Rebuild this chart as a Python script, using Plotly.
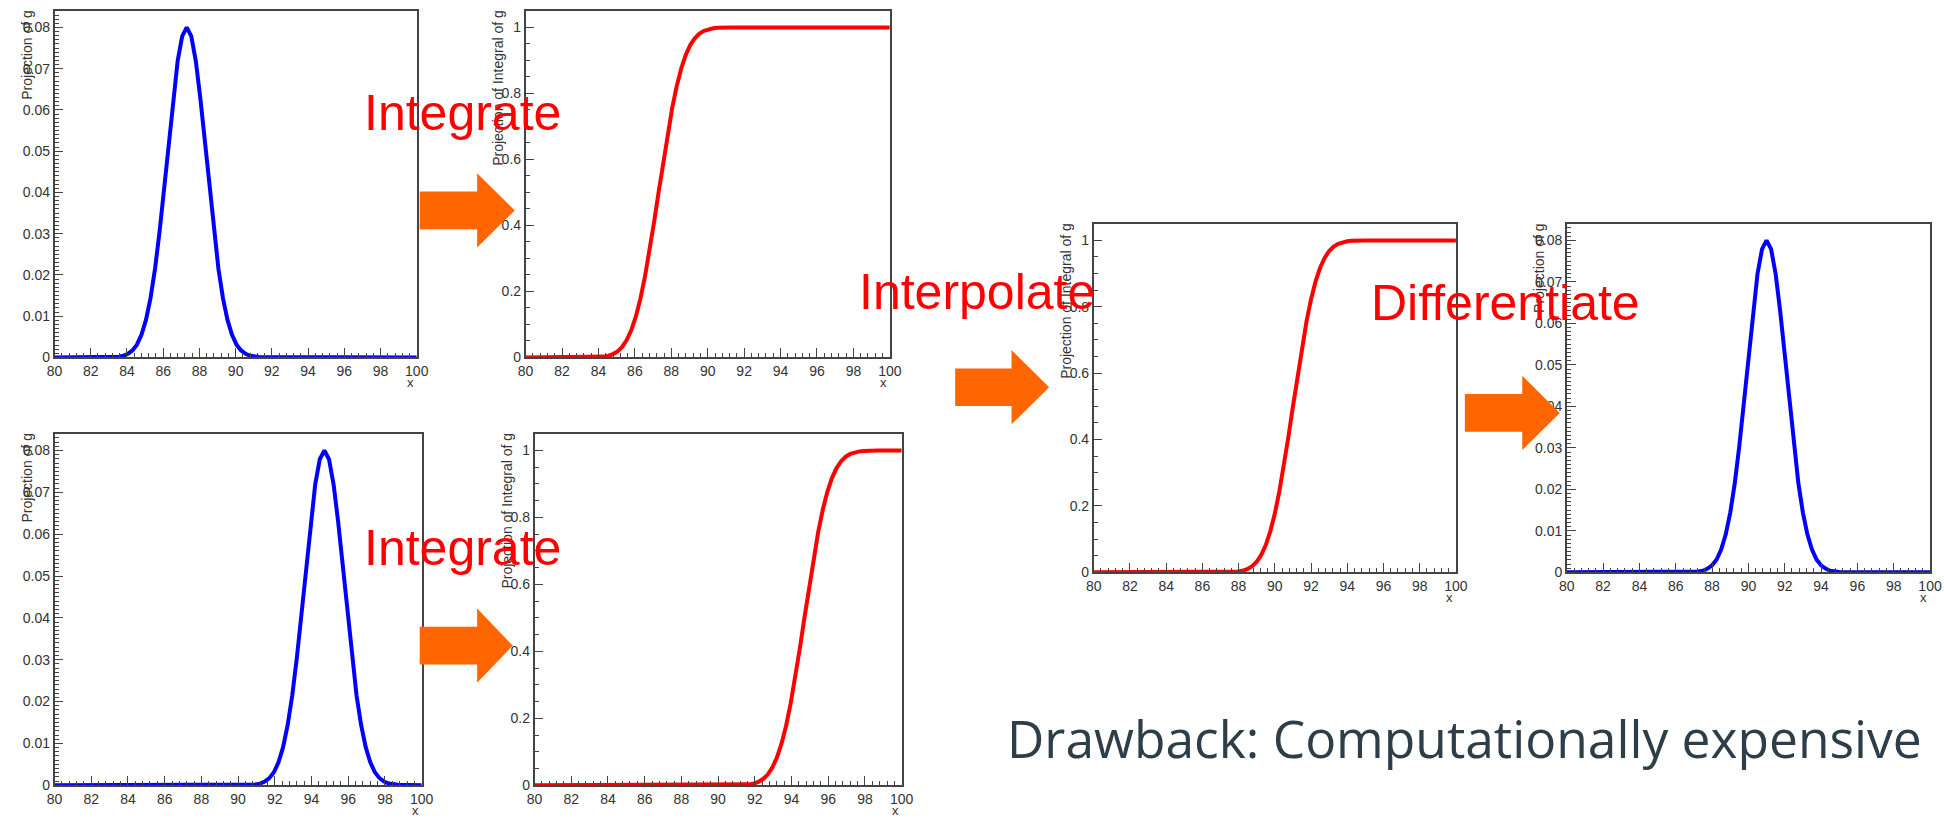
import plotly.graph_objects as go

W, H = 1944, 821

# ---------------- data ----------------
x_top = [80, 83.3, 83.55, 83.8, 84.05, 84.3, 84.55, 84.8, 85.05, 85.3, 85.55, 85.8, 86.05,
         86.3, 86.55, 86.8, 87.05, 87.3, 87.55, 87.8, 88.05, 88.3, 88.55, 88.8, 89.05, 89.3,
         89.55, 89.8, 90.05, 90.3, 90.55, 90.8, 91.05, 91.3, 100]
x_bottom = [80, 90.7, 90.95, 91.2, 91.45, 91.7, 91.95, 92.2, 92.45, 92.7, 92.95, 93.2, 93.45,
            93.7, 93.95, 94.2, 94.45, 94.7, 94.95, 95.2, 95.45, 95.7, 95.95, 96.2, 96.45, 96.7,
            96.95, 97.2, 97.45, 97.7, 97.95, 98.2, 98.45, 98.7, 100]
x_interp = [80, 87.0, 87.25, 87.5, 87.75, 88.0, 88.25, 88.5, 88.75, 89.0, 89.25, 89.5, 89.75,
            90.0, 90.25, 90.5, 90.75, 91.0, 91.25, 91.5, 91.75, 92.0, 92.25, 92.5, 92.75, 93.0,
            93.25, 93.5, 93.75, 94.0, 94.25, 94.5, 94.75, 95.0, 100]

pdf_top = [0, 0.0001, 0.0002, 0.0004, 0.0009, 0.0017, 0.0031, 0.0055, 0.0091, 0.0144, 0.0215,
           0.0305, 0.0410, 0.0521, 0.0629, 0.0719, 0.0779, 0.0800, 0.0779, 0.0719, 0.0629,
           0.0521, 0.0410, 0.0305, 0.0215, 0.0144, 0.0091, 0.0055, 0.0031, 0.0017, 0.0009,
           0.0004, 0.0002, 0.0001, 0]
pdf_bottom = [0, 0.0001, 0.0002, 0.0004, 0.0009, 0.0017, 0.0031, 0.0055, 0.0091, 0.0144, 0.0215,
              0.0305, 0.0410, 0.0521, 0.0629, 0.0719, 0.0779, 0.0800, 0.0779, 0.0719, 0.0629,
              0.0521, 0.0410, 0.0305, 0.0215, 0.0144, 0.0091, 0.0055, 0.0031, 0.0017, 0.0009,
              0.0004, 0.0002, 0.0001, 0]
pdf_interp = [0, 0.0001, 0.0002, 0.0004, 0.0009, 0.0017, 0.0031, 0.0055, 0.0091, 0.0144, 0.0215,
              0.0305, 0.0410, 0.0521, 0.0629, 0.0719, 0.0779, 0.0800, 0.0779, 0.0719, 0.0629,
              0.0521, 0.0410, 0.0305, 0.0215, 0.0144, 0.0091, 0.0055, 0.0031, 0.0017, 0.0009,
              0.0004, 0.0002, 0.0001, 0]

cdf_top = [0, 0.0001, 0.0003, 0.0006, 0.0013, 0.0027, 0.0054, 0.0103, 0.0186, 0.0320, 0.0526,
           0.0824, 0.1236, 0.1772, 0.2438, 0.3217, 0.4085, 0.5000, 0.5915, 0.6783, 0.7562,
           0.8228, 0.8764, 0.9176, 0.9474, 0.9680, 0.9814, 0.9897, 0.9946, 0.9973, 0.9987,
           0.9994, 0.9997, 0.9999, 1]
cdf_bottom = [0, 0.0001, 0.0003, 0.0006, 0.0013, 0.0027, 0.0054, 0.0103, 0.0186, 0.0320, 0.0526,
              0.0824, 0.1236, 0.1772, 0.2438, 0.3217, 0.4085, 0.5000, 0.5915, 0.6783, 0.7562,
              0.8228, 0.8764, 0.9176, 0.9474, 0.9680, 0.9814, 0.9897, 0.9946, 0.9973, 0.9987,
              0.9994, 0.9997, 0.9999, 1]
cdf_interp = [0, 0.0001, 0.0003, 0.0006, 0.0013, 0.0027, 0.0054, 0.0103, 0.0186, 0.0320, 0.0526,
              0.0824, 0.1236, 0.1772, 0.2438, 0.3217, 0.4085, 0.5000, 0.5915, 0.6783, 0.7562,
              0.8228, 0.8764, 0.9176, 0.9474, 0.9680, 0.9814, 0.9897, 0.9946, 0.9973, 0.9987,
              0.9994, 0.9997, 0.9999, 1]

pdf_title = "Projection of g"
cdf_title = "Projection of Integral of g"
x_title = "x"
step_labels = ["Integrate", "Integrate", "Interpolate", "Differentiate"]
note_text = "Drawback: Computationally expensive"

# ---------------- layout helpers ----------------
FONT = "Liberation Sans, Arial, Helvetica, sans-serif"
AX = "#444444"
TXT = "#333333"


def px_x(x):
    return x / W


def px_y(y):
    return 1 - y / H


# (left, right, top, bottom) in pixels, kind, x, y
panels = [
    ((47, 413, 11, 361), "pdf", x_top, pdf_top),
    ((523, 891, 11, 361), "cdf", x_top, cdf_top),
    ((47, 418, 438, 793), "pdf", x_bottom, pdf_bottom),
    ((532, 903, 438, 793), "cdf", x_bottom, cdf_bottom),
    ((1097, 1463, 226, 578), "cdf", x_interp, cdf_interp),
    ((1575, 1942, 226, 578), "pdf", x_interp, pdf_interp),
]

fig = go.Figure()
layout = dict(
    width=W, height=H, margin=dict(l=0, r=0, t=0, b=0),
    paper_bgcolor="white", plot_bgcolor="white", showlegend=False,
    font=dict(family=FONT, color=TXT),
)
annotations = []

for i, ((l, r, t, b), kind, xs, ys) in enumerate(panels, start=1):
    xa = "xaxis" if i == 1 else f"xaxis{i}"
    ya = "yaxis" if i == 1 else f"yaxis{i}"
    xr = "x" if i == 1 else f"x{i}"
    yr = "y" if i == 1 else f"y{i}"
    layout[xa] = dict(
        domain=[px_x(l), px_x(r)], anchor=yr, range=[80, 100],
        tick0=80, dtick=2, ticks="inside", ticklen=10, tickwidth=1, tickcolor=AX,
        minor=dict(ticks="inside", dtick=0.4, ticklen=5, tickwidth=1, tickcolor=AX),
        showline=True, mirror=True, linecolor=AX, linewidth=1.5,
        showgrid=False, zeroline=False, tickfont=dict(size=14, color=TXT, family=FONT),
        fixedrange=True,
    )
    if kind == "pdf":
        yrange, dt, mdt, color, title = [0, 0.084], 0.01, 0.001, "#0000ff", pdf_title
    else:
        yrange, dt, mdt, color, title = [0, 1.05], 0.2, 0.05, "#ff0000", cdf_title
    layout[ya] = dict(
        domain=[px_y(b), px_y(t)], anchor=xr, range=yrange,
        tick0=0, dtick=dt, ticks="inside", ticklen=9, tickwidth=1, tickcolor=AX,
        minor=dict(ticks="inside", dtick=mdt, ticklen=4.5, tickwidth=1, tickcolor=AX),
        showline=True, mirror=True, linecolor=AX, linewidth=1.5,
        showgrid=False, zeroline=False, tickfont=dict(size=14, color=TXT, family=FONT),
        fixedrange=True,
    )
    fig.add_trace(go.Scatter(x=xs, y=ys, mode="lines", xaxis=xr, yaxis=yr,
                             line=dict(color=color, width=4), hoverinfo="skip"))
    # rotated y-axis title, ROOT style (top aligned)
    annotations.append(dict(
        text=title, textangle=-90, xref="paper", yref="paper",
        x=px_x(l - 28), y=px_y(t - 3), xanchor="center", yanchor="top",
        showarrow=False, font=dict(size=14, color=TXT, family=FONT),
    ))
    # x-axis title
    annotations.append(dict(
        text=x_title, xref="paper", yref="paper",
        x=px_x(r - 1), y=px_y(b + 25), xanchor="right", yanchor="middle",
        showarrow=False, font=dict(size=13, color=TXT, family=FONT),
    ))

# big red step labels
label_pos = [(359, 114.5), (359, 553.5), (859, 294.5), (1376, 305.5)]
for txt, (x0, yc) in zip(step_labels, label_pos):
    annotations.append(dict(
        text=txt, xref="paper", yref="paper", x=px_x(x0), y=px_y(yc),
        xanchor="left", yanchor="middle", showarrow=False, borderpad=0,
        font=dict(size=50, color="#ff0000", family=FONT),
    ))

# note
annotations.append(dict(
    text=note_text, xref="paper", yref="paper", x=px_x(1008), y=px_y(745),
    xanchor="left", yanchor="middle", showarrow=False, borderpad=0,
    font=dict(size=51.5, color="#2e3e48", family="Open Sans, sans-serif"),
))

# orange block arrows (left, centre-y, head base, tip)
arrows = [(416, 212.5, 474, 512), (416, 652, 474, 510), (957, 391, 1014, 1052), (1472, 417, 1530, 1568)]
shapes = []
for (x0, yc, xb, xt) in arrows:
    sh, hh = 19, 37.5
    pts = [(x0, yc - sh), (xb, yc - sh), (xb, yc - hh), (xt, yc), (xb, yc + hh),
           (xb, yc + sh), (x0, yc + sh)]
    path = "M " + " L ".join(f"{px_x(px):.5f},{px_y(py):.5f}" for px, py in pts) + " Z"
    shapes.append(dict(type="path", xref="paper", yref="paper", path=path,
                       fillcolor="#ff6600", line=dict(width=0), layer="above"))

layout["annotations"] = annotations
layout["shapes"] = shapes
fig.update_layout(**layout)
fig.write_html("out.html")
